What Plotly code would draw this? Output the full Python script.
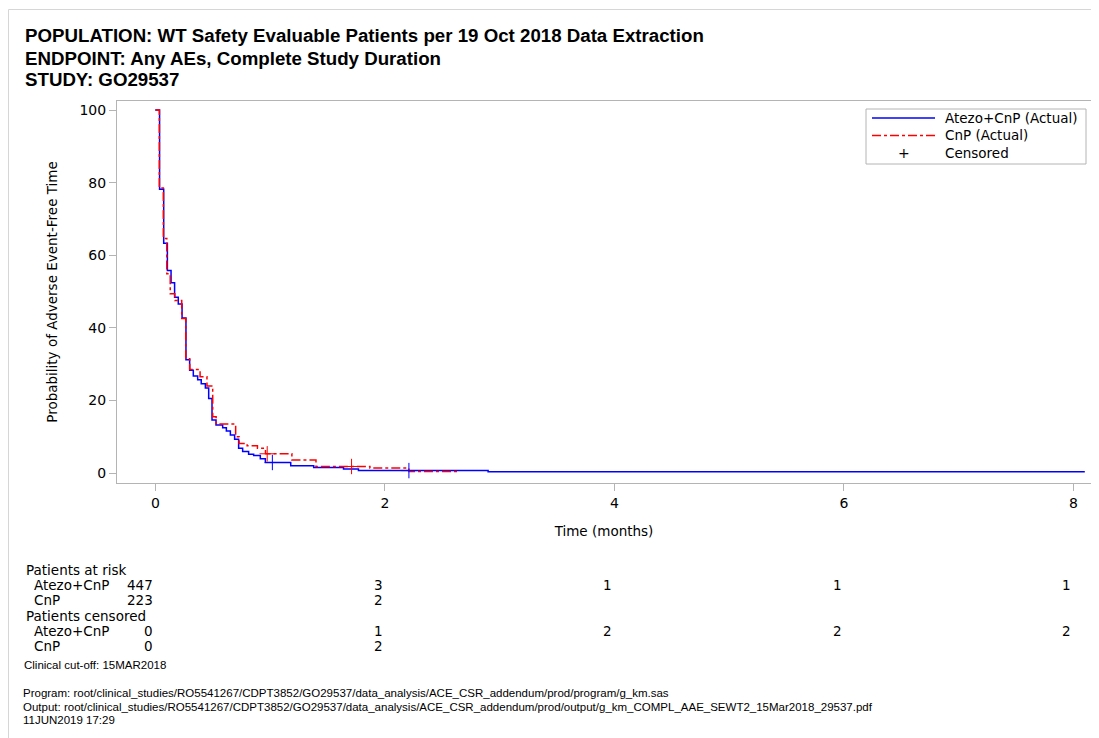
import plotly.graph_objects as go

# ---------------- data ----------------
atezo_t = [0, 0.037, 0.073, 0.105, 0.137, 0.168, 0.20, 0.233, 0.267, 0.299, 0.331, 0.369, 0.40,
           0.436, 0.465, 0.494, 0.529, 0.587, 0.619, 0.654, 0.691, 0.726, 0.761, 0.813, 0.857,
           0.915, 0.959, 1.18, 1.38, 1.64, 1.77, 2.90, 8.10]
atezo_s = [100, 78.2, 63.3, 55.8, 52.4, 48.4, 46.6, 42.7, 31.2, 28.3, 26.7, 25.7, 24.6,
           23.4, 20.5, 14.6, 13.2, 12.5, 11.6, 10.5, 9.3, 6.8, 5.9, 5.2, 4.8,
           3.9, 2.9, 2.0, 1.5, 1.1, 0.67, 0.33, 0.33]
atezo_cens_t = [1.02, 2.21]
atezo_cens_s = [2.9, 0.67]

cnp_t = [0, 0.035, 0.07, 0.10, 0.13, 0.17, 0.23, 0.265, 0.30, 0.39, 0.45, 0.50, 0.53, 0.70,
         0.73, 0.80, 0.89, 0.96, 1.19, 1.40, 1.87, 2.21, 2.63]
cnp_s = [100, 78.5, 64.6, 54.9, 49.4, 47.5, 42.6, 31.5, 28.5, 26.5, 24.0, 15.5, 13.5, 10.0,
         8.1, 7.5, 6.8, 5.3, 3.6, 1.8, 1.35, 0.45, 0.0]
cnp_cens_t = [0.975, 1.71]
cnp_cens_s = [5.3, 1.8]

x_ticks = [0, 2, 4, 6, 8]
y_ticks = [0, 20, 40, 60, 80, 100]

risk_times = [0, 2, 4, 6, 8]
risk_atezo = [447, 3, 1, 1, 1]
risk_cnp = [223, 2, None, None, None]
cens_atezo = [0, 1, 2, 2, 2]
cens_cnp = [0, 2, None, None, None]

series_names = ["Atezo+CnP (Actual)", "CnP (Actual)", "Censored"]

title_lines = [
    "POPULATION: WT Safety Evaluable Patients per 19 Oct 2018 Data Extraction",
    "ENDPOINT: Any AEs, Complete Study Duration",
    "STUDY: GO29537",
]
footer_lines = [
    "Program: root/clinical_studies/RO5541267/CDPT3852/GO29537/data_analysis/ACE_CSR_addendum/prod/program/g_km.sas",
    "Output: root/clinical_studies/RO5541267/CDPT3852/GO29537/data_analysis/ACE_CSR_addendum/prod/output/g_km_COMPL_AAE_SEWT2_15Mar2018_29537.pdf",
    "11JUN2019 17:29",
]

# ---------------- layout geometry (page pixels; figure sits at page offset 8,8) ----------------
OFF = 8
W, H = 1091, 730
L, R, T, B = 117 - OFF, 1091 - OFF, 101 - OFF, 483 - OFF
PW, PH = R - L, B - T


def px(x):
    return (x - OFF - L) / PW


def py(y):
    return (B - (y - OFF)) / PH


SANS = "DejaVu Sans"
ARIAL = "Liberation Sans, Arial"
AXC = "#b4b4b4"
BLUE = "#0000FF"
RED = "#FF0000"

fig = go.Figure()
fig.add_trace(go.Scatter(x=atezo_t, y=atezo_s, mode="lines", line_shape="hv",
                         line=dict(color=BLUE, width=1.5), name=series_names[0]))
fig.add_trace(go.Scatter(x=cnp_t, y=cnp_s, mode="lines", line_shape="hv",
                         line=dict(color=RED, width=1.5, dash="dashdot"), name=series_names[1]))
fig.add_trace(go.Scatter(x=atezo_cens_t, y=atezo_cens_s, mode="markers", name="Censored (Atezo+CnP)",
                         marker=dict(symbol="cross-thin", size=11, line=dict(color=BLUE, width=1))))
fig.add_trace(go.Scatter(x=cnp_cens_t, y=cnp_cens_s, mode="markers", name="Censored (CnP)",
                         marker=dict(symbol="cross-thin", size=11, line=dict(color=RED, width=1))))

ann = []
for i, t in enumerate(title_lines):
    ann.append(dict(text="<b>%s</b>" % t, x=px(23), y=py(36 + 22 * i), xref="paper", yref="paper",
                    xanchor="left", yanchor="middle", showarrow=False,
                    font=dict(family=ARIAL, size=18.7, color="black")))

# legend (drawn manually to match the box geometry)
LX0, LX1, LY0, LY1 = 866, 1086, 109, 164
legend_rows_y = [118, 135.5, 153]
shapes = [
    dict(type="rect", xref="paper", yref="paper", x0=px(LX0), x1=px(LX1), y0=py(LY1), y1=py(LY0),
         line=dict(color=AXC, width=1), fillcolor="white", layer="above"),
    dict(type="line", xref="paper", yref="paper", x0=px(872), x1=px(935),
         y0=py(legend_rows_y[0]), y1=py(legend_rows_y[0]), line=dict(color=BLUE, width=1.5), layer="above"),
    dict(type="line", xref="paper", yref="paper", x0=px(872), x1=px(935),
         y0=py(legend_rows_y[1]), y1=py(legend_rows_y[1]), line=dict(color=RED, width=1.5, dash="dashdot"),
         layer="above"),
    # frame of the output page
    dict(type="line", xref="paper", yref="paper", x0=px(8.5), x1=px(8.5), y0=py(9.5), y1=py(740),
         line=dict(color="#d6d6d6", width=1)),
    dict(type="line", xref="paper", yref="paper", x0=px(8.5), x1=px(1100), y0=py(9.5), y1=py(9.5),
         line=dict(color="#d6d6d6", width=1)),
]
for name, yy in zip(series_names, legend_rows_y):
    ann.append(dict(text=name, x=px(943), y=py(yy), xref="paper", yref="paper",
                    xanchor="left", yanchor="middle", showarrow=False,
                    font=dict(family=SANS, size=13.5, color="black")))
ann.append(dict(text="+", x=px(903.5), y=py(legend_rows_y[2]), xref="paper", yref="paper",
                xanchor="center", yanchor="middle", showarrow=False,
                font=dict(family=SANS, size=14, color="black")))

# risk table
rows = [
    ("Patients at risk", 24, 570, None),
    ("Atezo+CnP", 32, 585, risk_atezo),
    ("CnP", 32, 600, risk_cnp),
    ("Patients censored", 24, 616, None),
    ("Atezo+CnP", 32, 631, cens_atezo),
    ("CnP", 32, 646, cens_cnp),
]
for label, lx, ly, vals in rows:
    ann.append(dict(text=label, x=px(lx), y=py(ly), xref="paper", yref="paper",
                    xanchor="left", yanchor="middle", showarrow=False,
                    font=dict(family=SANS, size=13.5, color="black")))
    if vals is not None:
        for t, v in zip(risk_times, vals):
            if v is None:
                continue
            ann.append(dict(text=str(v), x=t, y=py(ly), xref="x", yref="paper",
                            xanchor="right", yanchor="middle", showarrow=False, xshift=0,
                            font=dict(family=SANS, size=13.5, color="black")))

ann.append(dict(text="Clinical cut-off: 15MAR2018", x=px(22), y=py(665), xref="paper", yref="paper",
                xanchor="left", yanchor="middle", showarrow=False,
                font=dict(family=ARIAL, size=11.5, color="black")))
for i, t in enumerate(footer_lines):
    ann.append(dict(text=t, x=px(21), y=py(693 + 13.5 * i), xref="paper", yref="paper",
                    xanchor="left", yanchor="middle", showarrow=False,
                    font=dict(family=ARIAL, size=11.5, color="black")))

fig.update_layout(
    width=W, height=H,
    margin=dict(l=L, r=W - R, t=T, b=H - B, pad=0),
    paper_bgcolor="white", plot_bgcolor="white",
    font=dict(family=SANS, size=13.5, color="black"),
    showlegend=False,
    annotations=ann,
    shapes=shapes,
    xaxis=dict(range=[-0.334, 8.154], tickvals=x_ticks, ticks="outside", ticklen=7,
               tickcolor=AXC, showline=True, linecolor=AXC, mirror=True, showgrid=False,
               zeroline=False, tickfont=dict(family=SANS, size=14),
               title=dict(text="Time (months)", font=dict(family=SANS, size=13.5), standoff=16)),
    yaxis=dict(range=[-2.75, 102.5], tickvals=y_ticks, ticks="outside", ticklen=7,
               tickcolor=AXC, showline=True, linecolor=AXC, mirror=True, showgrid=False,
               zeroline=False, tickfont=dict(family=SANS, size=14),
               title=dict(text="Probability of Adverse Event-Free Time",
                          font=dict(family=SANS, size=13.5), standoff=18)),
)

fig.write_html("out.html")
